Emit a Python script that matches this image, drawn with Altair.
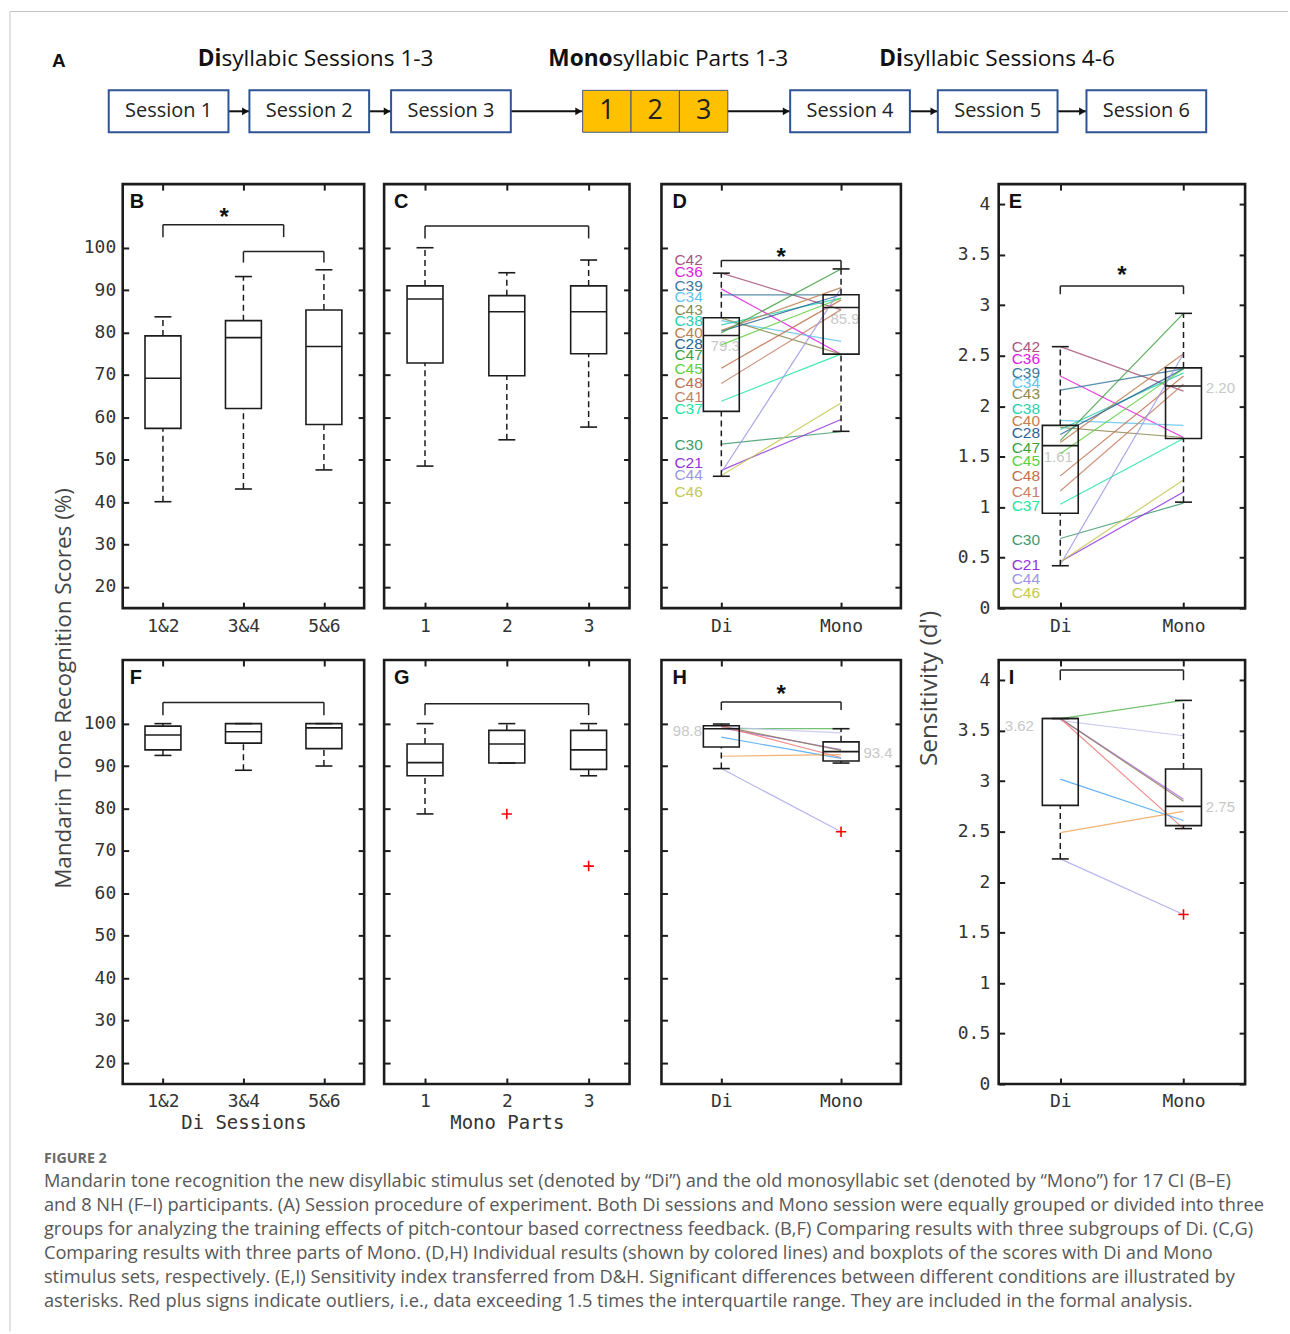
import altair as alt
import pandas as pd

# ------------------------------------------------------------------ data
SESSIONS = ["Session 1", "Session 2", "Session 3", "Session 4", "Session 5", "Session 6"]
PARTS = ["1", "2", "3"]
GROUP_BOLD = ["Di", "Mono", "Di"]
GROUP_REST = ["syllabic Sessions 1-3", "syllabic Parts 1-3", "syllabic Sessions 4-6"]

DI_GROUPS = ["1&2", "3&4", "5&6"]
MONO_PARTS = ["1", "2", "3"]
CONDITIONS = ["Di", "Mono"]

# B  (CI, Di session groups)
B_LO = [40.1, 43.1, 47.6]
B_Q1 = [57.4, 62.1, 58.3]
B_MED = [69.2, 78.8, 76.7]
B_Q3 = [79.2, 82.8, 85.3]
B_HI = [83.7, 93.2, 94.8]
# C  (CI, Mono parts)
C_LO = [48.5, 54.7, 57.7]
C_Q1 = [72.8, 69.8, 75.0]
C_MED = [87.9, 84.9, 84.9]
C_Q3 = [91.0, 88.7, 91.0]
C_HI = [100.0, 94.1, 97.1]
# D  (CI, Di vs Mono, %)
D_LO = [46.1, 56.7]
D_Q1 = [61.4, 74.9]
D_MED = [79.3, 85.9]
D_Q3 = [83.5, 88.9]
D_HI = [94.0, 95.0]
# E  (CI, d')
E_LO = [0.42, 1.05]
E_Q1 = [0.94, 1.68]
E_MED = [1.61, 2.20]
E_Q3 = [1.81, 2.38]
E_HI = [2.59, 2.92]
# F  (NH, Di session groups)
F_LO = [92.5, 89.0, 90.0]
F_Q1 = [93.8, 95.4, 94.1]
F_MED = [97.3, 98.1, 99.0]
F_Q3 = [99.4, 100.0, 100.0]
F_HI = [100.0, 100.0, 100.0]
# G  (NH, Mono parts)
G_LO = [78.7, 90.7, 87.7]
G_Q1 = [87.7, 90.7, 89.2]
G_MED = [90.8, 95.2, 93.8]
G_Q3 = [95.2, 98.4, 98.4]
G_HI = [100.0, 100.0, 100.0]
G_OUT_X = [2, 3]
G_OUT_Y = [78.7, 66.4]
# H  (NH, Di vs Mono, %)
H_LO = [89.4, 90.7]
H_Q1 = [94.5, 91.2]
H_MED = [98.8, 93.4]
H_Q3 = [99.5, 95.7]
H_HI = [99.9, 98.8]
H_OUT_X = [2]
H_OUT_Y = [74.5]
# I  (NH, d')
I_LO = [2.23, 2.53]
I_Q1 = [2.76, 2.56]
I_MED = [3.62, 2.75]
I_Q3 = [3.62, 3.12]
I_HI = [3.62, 3.80]
I_OUT_X = [2]
I_OUT_Y = [1.68]

CI_IDS = ["C42", "C36", "C39", "C34", "C43", "C38", "C40", "C28", "C47",
          "C45", "C48", "C41", "C37", "C30", "C21", "C44", "C46"]
CI_COLORS = ["#a8557f", "#e020e0", "#3a7a9c", "#62c4ef", "#8c8a52", "#2ccfb0",
             "#c07f52", "#2a6294", "#3f9f40", "#5ccf3e", "#c07050", "#c4826a",
             "#22e6a2", "#3f9a6c", "#9434e0", "#9a98e4", "#c6c852"]
D_DI = [94.0, 90.3, 88.9, 82.8, 83.4, 81.8, 80.5, 80.3, 79.9, 77.1, 71.6, 68.0, 63.8, 53.7, 47.5, 47.0, 46.3]
D_MONO = [85.4, 74.9, 88.9, 77.9, 74.9, 88.1, 90.6, 88.9, 95.0, 88.1, 87.7, 85.4, 74.9, 56.6, 59.5, 90.4, 63.4]
D_TAG = [97.1, 94.2, 91.0, 88.3, 85.4, 82.7, 80.0, 77.3, 74.6, 71.5, 68.2, 64.8, 61.9, 53.5, 49.2, 46.4, 42.3]
E_DI = [2.59, 2.30, 2.16, 1.86, 1.79, 1.77, 1.64, 1.72, 1.66, 1.53, 1.31, 1.16, 1.03, 0.69, 0.46, 0.43, 0.46]
E_MONO = [2.15, 1.69, 2.37, 1.81, 1.69, 2.33, 2.52, 2.37, 2.92, 2.37, 2.30, 2.22, 1.68, 1.04, 1.15, 2.52, 1.27]
E_TAG = [2.59, 2.47, 2.33, 2.23, 2.12, 1.97, 1.85, 1.73, 1.59, 1.46, 1.31, 1.15, 1.01, 0.67, 0.43, 0.29, 0.15]

NH_IDS = ["N1", "N2", "N3", "N4", "N5", "N6", "N7", "N8"]
NH_COLORS = ["#5cb85c", "#c4c4f0", "#b070e8", "#8c7c5c", "#f07a7a", "#4aa6f2", "#f2a65a", "#a8a8ee"]
H_DI = [98.8, 99.2, 99.0, 99.4, 99.4, 96.8, 92.3, 89.4]
H_MONO = [98.8, 97.8, 93.9, 93.7, 92.0, 91.8, 92.7, 74.5]
I_DI = [3.62, 3.60, 3.62, 3.62, 3.62, 3.02, 2.49, 2.23]
I_MONO = [3.80, 3.45, 2.82, 2.80, 2.53, 2.61, 2.70, 1.68]

PCT_TICKS = [20, 30, 40, 50, 60, 70, 80, 90, 100]
DP_TICKS = [0, 0.5, 1, 1.5, 2, 2.5, 3, 3.5, 4]

CAPTION_HEAD = "FIGURE 2"
CAPTION = [
    "Mandarin tone recognition the new disyllabic stimulus set (denoted by \u201cDi\u201d) and the old monosyllabic set (denoted by \u201cMono\u201d) for 17 CI (B\u2013E)",
    "and 8 NH (F\u2013I) participants. (A) Session procedure of experiment. Both Di sessions and Mono session were equally grouped or divided into three",
    "groups for analyzing the training effects of pitch-contour based correctness feedback. (B,F) Comparing results with three subgroups of Di. (C,G)",
    "Comparing results with three parts of Mono. (D,H) Individual results (shown by colored lines) and boxplots of the scores with Di and Mono",
    "stimulus sets, respectively. (E,I) Sensitivity index transferred from D&H. Significant differences between different conditions are illustrated by",
    "asterisks. Red plus signs indicate outliers, i.e., data exceeding 1.5 times the interquartile range. They are included in the formal analysis.",
]

# ------------------------------------------------------------------ layout / style
INK = "#1c1c1c"
MONO_FONT = "DejaVu Sans Mono"
SANS = "Liberation Sans"
OPEN = "Open Sans"
ROW_H = 425
LEFT = 121
ROW_TOP = [183, 660]
ROW_GAP = 52
WB, WC, WD, WE = 242, 246, 240, 247
GAPS = [20, 32, 98]

# diagram geometry (page pixels)
SESSION_X0 = [107, 248, 390, 790, 938, 1087]
SESSION_W = 120
PART_X0 = [582, 630.5, 679]
PART_W = 48.5
BOX_TOP, BOX_BOT = 89, 131
ARROW_FROM = [227, 368, 510, 727, 910, 1058]
ARROW_TO = [248, 390, 582, 790, 938, 1087]
GROUP_ANCHOR = [220, 612, 903]
GROUP_Y = 58


def lexpr(labels):
    expr = "'" + labels[-1] + "'"
    for i in range(len(labels) - 2, -1, -1):
        expr = f"datum.value == {i + 1} ? '{labels[i]}' : " + expr
    return expr


def box_frame(lo, q1, med, q3, hi):
    return pd.DataFrame({"pos": list(range(1, len(lo) + 1)), "lo": lo, "q1": q1,
                         "med": med, "q3": q3, "hi": hi})


def pair_frame(ids, colors, di, mono):
    rows = []
    for i, c, a, b in zip(ids, colors, di, mono):
        rows.append({"id": i, "color": c, "cond": 1, "v": a})
        rows.append({"id": i, "color": c, "cond": 2, "v": b})
    return pd.DataFrame(rows)


def make_panel(letter, labels, width, ydom, yticks, box, show_y=False, ylabpad=7,
               xtitle=None, ytitle=None, ytitle_x=0, ytitle_y=0, ytitle_size=22.5,
               letter_x=8, pairs=None, tags=None, meds=None, brackets=None,
               stars=None, outliers=None):
    n = len(labels)
    xs = alt.Scale(domain=[0.5, n + 0.5], nice=False, zero=False)
    ys = alt.Scale(domain=ydom, nice=False, zero=False)
    upp = n / width
    bw = 18 * upp
    cw = 8.5 * upp

    def X(f):
        return alt.X(f"{f}:Q", scale=xs, axis=None)

    def Y(f):
        return alt.Y(f"{f}:Q", scale=ys, axis=None)

    layers = []
    if meds:
        for (x, y, txt, dx, dy) in meds:
            layers.append(
                alt.Chart(pd.DataFrame({"x": [x], "y": [y], "t": [txt]}))
                .mark_text(font=SANS, fontSize=15, color="#c8c8c8", dx=dx, dy=dy)
                .encode(x=X("x"), y=Y("y"), text="t:N"))
    if pairs is not None:
        layers.append(
            alt.Chart(pairs).mark_line(strokeWidth=1.2, opacity=0.85)
            .encode(x=X("cond"), y=Y("v"), detail="id:N",
                    color=alt.Color("color:N", scale=None)))

    whisk = pd.concat([
        pd.DataFrame({"pos": box.pos, "a": box.lo, "b": box.q1}),
        pd.DataFrame({"pos": box.pos, "a": box.q3, "b": box.hi}),
    ])
    layers.append(alt.Chart(whisk).mark_rule(strokeDash=[6, 4], strokeWidth=1.5, color=INK)
                  .encode(x=X("pos"), y=Y("a"), y2=alt.Y2("b")))
    caps = pd.concat([pd.DataFrame({"pos": box.pos, "v": box.lo}),
                      pd.DataFrame({"pos": box.pos, "v": box.hi})])
    layers.append(alt.Chart(caps).mark_rule(strokeWidth=1.6, color=INK)
                  .transform_calculate(c0=f"datum.pos - {cw}", c1=f"datum.pos + {cw}")
                  .encode(x=X("c0"), x2=alt.X2("c1"), y=Y("v")))
    bx = alt.Chart(box).transform_calculate(x0=f"datum.pos - {bw}", x1=f"datum.pos + {bw}")
    layers.append(bx.mark_rect(fill="white", fillOpacity=0, stroke=INK, strokeWidth=1.6)
                  .encode(x=X("x0"), x2=alt.X2("x1"), y=Y("q1"), y2=alt.Y2("q3")))
    layers.append(bx.mark_rule(strokeWidth=1.6, color=INK)
                  .encode(x=X("x0"), x2=alt.X2("x1"), y=Y("med")))

    if outliers is not None:
        layers.append(
            alt.Chart(outliers).mark_point(shape="M-1,0L1,0M0,-1L0,1", size=110,
                                           stroke="#ff0000", strokeWidth=1.6,
                                           filled=False, opacity=1)
            .encode(x=X("x"), y=Y("y")))
    if brackets is not None:
        bc = alt.Chart(brackets)
        layers.append(bc.mark_rule(strokeWidth=1.5, color="#222")
                      .encode(x=X("xa"), x2=alt.X2("xb"), y=Y("yh")))
        layers.append(bc.mark_rule(strokeWidth=1.5, color="#222")
                      .encode(x=X("xa"), y=Y("yh"), y2=alt.Y2("la")))
        layers.append(bc.mark_rule(strokeWidth=1.5, color="#222")
                      .encode(x=X("xb"), y=Y("yh"), y2=alt.Y2("lb")))
    if stars is not None:
        layers.append(alt.Chart(stars).mark_text(text="*", font=SANS, fontSize=24,
                                                 fontWeight="bold", color="#111",
                                                 baseline="middle", dy=6)
                      .encode(x=X("x"), y=Y("y")))
    if tags is not None:
        layers.append(alt.Chart(tags).mark_text(align="left", baseline="middle",
                                                font=SANS, fontSize=15.5)
                      .encode(x=alt.value(13), y=Y("ty"), text="id:N",
                              color=alt.Color("color:N", scale=None)))
    layers.append(alt.Chart(pd.DataFrame({"t": [letter]}))
                  .mark_text(align="left", baseline="alphabetic", font=SANS,
                             fontSize=20, fontWeight="bold", color="#111")
                  .encode(x=alt.value(letter_x), y=alt.value(24), text="t:N"))

    tick_common = dict(offset=-6, tickSize=6, tickWidth=2, tickColor=INK,
                       domain=False, grid=False)
    bottom_kw = dict(orient="bottom", values=list(range(1, n + 1)),
                     labelExpr=lexpr(labels), labelFont=MONO_FONT, labelFontSize=18,
                     labelColor="#333", labelPadding=9, labelAngle=0,
                     labelFlush=False, labelOverlap=False, title=xtitle,
                     titleFont=MONO_FONT, titleFontSize=19, titleColor="#333",
                     titleFontWeight="normal", titlePadding=3, **tick_common)
    left_kw = dict(orient="left", values=yticks, labels=show_y,
                   labelExpr="'' + datum.value",
                   labelFont=MONO_FONT, labelFontSize=18, labelColor="#333",
                   labelPadding=ylabpad, labelFlush=False, labelOverlap=False,
                   title=ytitle, **tick_common)
    if ytitle:
        left_kw.update(titleX=ytitle_x, titleY=ytitle_y, titleAngle=270,
                       titleAlign="center", titleBaseline="middle", titleFont=OPEN,
                       titleFontSize=ytitle_size, titleFontWeight="normal",
                       titleColor="#444")
    top_kw = dict(orient="top", values=list(range(1, n + 1)), labels=False,
                  title=None, **tick_common)
    right_kw = dict(orient="right", values=yticks, labels=False, title=None,
                    **tick_common)
    base = alt.Chart(box)
    layers.append(base.mark_point(opacity=0).encode(
        x=alt.X("pos:Q", scale=xs, axis=alt.Axis(**bottom_kw)),
        y=alt.Y("med:Q", scale=ys, axis=alt.Axis(**left_kw))))
    layers.append(base.mark_point(opacity=0).encode(
        x=alt.X("pos:Q", scale=xs, axis=alt.Axis(**top_kw)),
        y=alt.Y("med:Q", scale=ys, axis=alt.Axis(**right_kw))))
    return alt.layer(*layers).resolve_axis(x="independent", y="independent")


def page_scales(left, top, width, height):
    return (alt.Scale(domain=[left, left + width], nice=False, zero=False),
            alt.Scale(domain=[top, top + height], nice=False, zero=False, reverse=True))


# ---------------- panel A diagram + frame (drawn in page pixels from B's origin)
axs, ays = page_scales(LEFT, ROW_TOP[0], WB, ROW_H)


def AX(f):
    return alt.X(f"{f}:Q", scale=axs, axis=None)


def AY(f):
    return alt.Y(f"{f}:Q", scale=ays, axis=None)


sess = pd.DataFrame({"label": SESSIONS, "x0": SESSION_X0,
                     "x1": [x + SESSION_W for x in SESSION_X0]})
sess["xc"] = (sess.x0 + sess.x1) / 2
sess["y0"] = BOX_TOP
sess["y1"] = BOX_BOT
sess["yc"] = (BOX_TOP + BOX_BOT) / 2
parts = pd.DataFrame({"label": PARTS, "x0": PART_X0, "x1": [x + PART_W for x in PART_X0]})
parts["xc"] = (parts.x0 + parts.x1) / 2
parts["y0"] = BOX_TOP
parts["y1"] = BOX_BOT
parts["yc"] = (BOX_TOP + BOX_BOT) / 2
arrows = pd.DataFrame({"xa": ARROW_FROM, "xb": ARROW_TO})
arrows["xh"] = arrows.xb - 4
arrows["y"] = (BOX_TOP + BOX_BOT) / 2
groups = pd.DataFrame({"b": GROUP_BOLD, "r": GROUP_REST, "x": GROUP_ANCHOR, "y": GROUP_Y})
frame_top = pd.DataFrame({"x0": [8], "x1": [1289], "y": [10]})
frame_left = pd.DataFrame({"x": [8], "y0": [10], "y1": [1333]})

diagram = alt.layer(
    alt.Chart(frame_top).mark_rule(stroke="#c4c4c4", strokeWidth=1)
    .encode(x=AX("x0"), x2=alt.X2("x1"), y=AY("y")),
    alt.Chart(frame_left).mark_rule(stroke="#c4c4c4", strokeWidth=1)
    .encode(x=AX("x"), y=AY("y0"), y2=alt.Y2("y1")),
    alt.Chart(arrows).mark_rule(strokeWidth=2, color="#111")
    .encode(x=AX("xa"), x2=alt.X2("xb"), y=AY("y")),
    alt.Chart(arrows).mark_point(shape="triangle-right", filled=True, size=60,
                                 color="#111", opacity=1)
    .encode(x=AX("xh"), y=AY("y")),
    alt.Chart(sess).mark_rect(fill="white", stroke="#2f5496", strokeWidth=2)
    .encode(x=AX("x0"), x2=alt.X2("x1"), y=AY("y0"), y2=alt.Y2("y1")),
    alt.Chart(sess).mark_text(font=OPEN, fontSize=20, color="#222", baseline="middle")
    .encode(x=AX("xc"), y=AY("yc"), text="label:N"),
    alt.Chart(parts).mark_rect(fill="#ffc000", stroke="#41577f", strokeWidth=1)
    .encode(x=AX("x0"), x2=alt.X2("x1"), y=AY("y0"), y2=alt.Y2("y1")),
    alt.Chart(parts).mark_text(font=OPEN, fontSize=27, color="#222", baseline="middle")
    .encode(x=AX("xc"), y=AY("yc"), text="label:N"),
    alt.Chart(groups).mark_text(font=OPEN, fontSize=22.7, fontWeight="bold",
                                color="#111", align="right", baseline="middle")
    .encode(x=AX("x"), y=AY("y"), text="b:N"),
    alt.Chart(groups).mark_text(font=OPEN, fontSize=22.7, color="#111", align="left",
                                baseline="middle")
    .encode(x=AX("x"), y=AY("y"), text="r:N"),
    alt.Chart(pd.DataFrame({"t": ["A"], "x": [50], "y": [60]}))
    .mark_text(font=SANS, fontSize=19, fontWeight="bold", color="#111", align="left",
               baseline="middle")
    .encode(x=AX("x"), y=AY("y"), text="t:N"),
)

# ---------------- caption (page pixels from F's origin)
cxs, cys = page_scales(LEFT, ROW_TOP[1], WB, ROW_H)
cap = pd.DataFrame({"t": CAPTION, "x": 42, "y": [1183 + 24 * i for i in range(len(CAPTION))]})
caption = alt.layer(
    alt.Chart(pd.DataFrame({"t": [CAPTION_HEAD], "x": [42], "y": [1160]}))
    .mark_text(font=OPEN, fontSize=14.3, fontWeight="bold", color="#6a6a6a",
               align="left", baseline="middle")
    .encode(x=alt.X("x:Q", scale=cxs, axis=None), y=alt.Y("y:Q", scale=cys, axis=None),
            text="t:N"),
    alt.Chart(cap).mark_text(font=OPEN, fontSize=18.3, color="#575757", align="left",
                             baseline="middle")
    .encode(x=alt.X("x:Q", scale=cxs, axis=None), y=alt.Y("y:Q", scale=cys, axis=None),
            text="t:N"),
)

# ---------------- panels
PCT = [15, 115]
DP = [0, 4.2]

pB = make_panel("B", DI_GROUPS, WB, PCT, PCT_TICKS,
                box_frame(B_LO, B_Q1, B_MED, B_Q3, B_HI), show_y=True,
                ytitle="Mandarin Tone Recognition Scores (%)", ytitle_x=-65, ytitle_y=505,
                letter_x=7,
                brackets=pd.DataFrame({"xa": [1, 2], "xb": [2.5, 3], "yh": [105.4, 99.1],
                                       "la": [102.5, 96.5], "lb": [102.5, 96.5]}),
                stars=pd.DataFrame({"x": [1.76], "y": [108.4]}))
pB = alt.layer(pB, diagram).resolve_scale(x="independent", y="independent")

pC = make_panel("C", MONO_PARTS, WC, PCT, PCT_TICKS,
                box_frame(C_LO, C_Q1, C_MED, C_Q3, C_HI), letter_x=10,
                brackets=pd.DataFrame({"xa": [1], "xb": [3], "yh": [105.1],
                                       "la": [102.2], "lb": [102.2]}))

pD = make_panel("D", CONDITIONS, WD, PCT, PCT_TICKS,
                box_frame(D_LO, D_Q1, D_MED, D_Q3, D_HI), letter_x=11,
                pairs=pair_frame(CI_IDS, CI_COLORS, D_DI, D_MONO),
                tags=pd.DataFrame({"id": CI_IDS, "color": CI_COLORS, "ty": D_TAG}),
                meds=[(1, D_MED[0], "79.3", 4, 11), (2, D_MED[1], "85.9", 4, 12)],
                brackets=pd.DataFrame({"xa": [1], "xb": [2], "yh": [97.0],
                                       "la": [95.4], "lb": [95.0]}),
                stars=pd.DataFrame({"x": [1.5], "y": [99.0]}))

pE = make_panel("E", CONDITIONS, WE, DP, DP_TICKS,
                box_frame(E_LO, E_Q1, E_MED, E_Q3, E_HI), show_y=True, ylabpad=9,
                ytitle="Sensitivity (d')", ytitle_x=-75, ytitle_y=505,
                ytitle_size=24.5, letter_x=10,
                pairs=pair_frame(CI_IDS, CI_COLORS, E_DI, E_MONO),
                tags=pd.DataFrame({"id": CI_IDS, "color": CI_COLORS, "ty": E_TAG}),
                meds=[(1, E_MED[0], "1.61", -2, 11), (2, E_MED[1], "2.20", 37, 2)],
                brackets=pd.DataFrame({"xa": [1], "xb": [2], "yh": [3.19],
                                       "la": [3.11], "lb": [3.11]}),
                stars=pd.DataFrame({"x": [1.5], "y": [3.35]}))

pF = make_panel("F", DI_GROUPS, WB, PCT, PCT_TICKS,
                box_frame(F_LO, F_Q1, F_MED, F_Q3, F_HI), show_y=True,
                xtitle="Di Sessions", letter_x=7,
                brackets=pd.DataFrame({"xa": [1], "xb": [3], "yh": [105.0],
                                       "la": [102.0], "lb": [102.0]}))
pF = alt.layer(pF, caption).resolve_scale(x="independent", y="independent")

pG = make_panel("G", MONO_PARTS, WC, PCT, PCT_TICKS,
                box_frame(G_LO, G_Q1, G_MED, G_Q3, G_HI), xtitle="Mono Parts",
                letter_x=10,
                outliers=pd.DataFrame({"x": G_OUT_X, "y": G_OUT_Y}),
                brackets=pd.DataFrame({"xa": [1], "xb": [3], "yh": [104.7],
                                       "la": [102.0], "lb": [102.0]}))

pH = make_panel("H", CONDITIONS, WD, PCT, PCT_TICKS,
                box_frame(H_LO, H_Q1, H_MED, H_Q3, H_HI), letter_x=11,
                pairs=pair_frame(NH_IDS, NH_COLORS, H_DI, H_MONO),
                meds=[(1, H_MED[0], "98.8", -34, 2), (2, H_MED[1], "93.4", 37, 1)],
                outliers=pd.DataFrame({"x": H_OUT_X, "y": H_OUT_Y}),
                brackets=pd.DataFrame({"xa": [1], "xb": [2], "yh": [105.1],
                                       "la": [103.2], "lb": [103.2]}),
                stars=pd.DataFrame({"x": [1.5], "y": [108.2]}))

pI = make_panel("I", CONDITIONS, WE, DP, DP_TICKS,
                box_frame(I_LO, I_Q1, I_MED, I_Q3, I_HI), show_y=True, ylabpad=9,
                letter_x=10,
                pairs=pair_frame(NH_IDS, NH_COLORS, I_DI, I_MONO),
                meds=[(1, I_MED[0], "3.62", -41, 7), (2, I_MED[1], "2.75", 37, 1)],
                outliers=pd.DataFrame({"x": I_OUT_X, "y": I_OUT_Y}),
                brackets=pd.DataFrame({"xa": [1], "xb": [2], "yh": [4.10],
                                       "la": [4.0], "lb": [4.0]}))


def spacer(w):
    return (alt.Chart(pd.DataFrame({"s": [0]})).mark_point(opacity=0)
            .encode(x=alt.X("s:Q", axis=None), y=alt.Y("s:Q", axis=None))
            .properties(width=w, height=ROW_H,
                        view=alt.ViewBackground(stroke="transparent")))


cells = []
for row in [(pB, pC, pD, pE), (pF, pG, pH, pI)]:
    a, b, c, d = row
    cells += [a.properties(width=WB, height=ROW_H), spacer(GAPS[0]),
              b.properties(width=WC, height=ROW_H), spacer(GAPS[1]),
              c.properties(width=WD, height=ROW_H), spacer(GAPS[2]),
              d.properties(width=WE, height=ROW_H)]

chart = (
    alt.concat(*cells, columns=7, spacing={"row": ROW_GAP, "column": 0})
    .properties(bounds="flush", align="each",
                padding={"left": 8, "top": 8, "right": 0, "bottom": 0})
    .configure(font=SANS)
    .configure_view(stroke=INK, strokeWidth=2.6)
)

chart.save("out.html", embed_options={"renderer": "svg", "actions": False})
